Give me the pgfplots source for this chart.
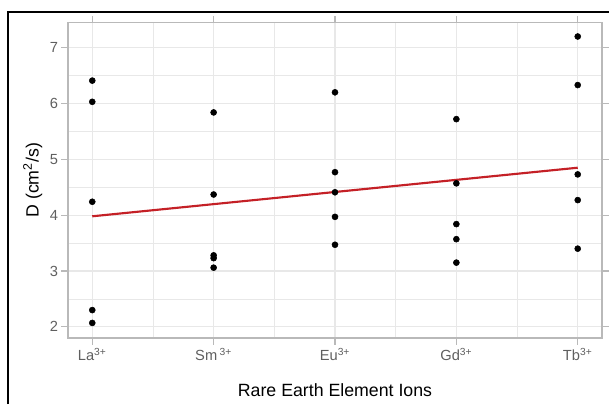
\documentclass[border=0pt]{standalone}
\usepackage{pgfplots}
\pgfplotsset{compat=1.18}
\usepackage{fontspec}
\setmainfont{Liberation Sans}

\definecolor{gridgray}{RGB}{232,232,232}
\definecolor{framegray}{RGB}{185,185,185}
\definecolor{ticktext}{RGB}{95,95,95}
\definecolor{fitred}{RGB}{196,32,38}

\begin{document}
\begin{tikzpicture}
    \begin{axis}[
        scale only axis,
        width=400.5pt,
        height=236.6pt,
        xmin=-0.2, xmax=4.2,
        ymin=1.80, ymax=7.45,
        xtick={0,1,2,3,4},
        xticklabels={La\textsuperscript{3+}, Sm\,\textsuperscript{3+}, Eu\textsuperscript{3+}, Gd\textsuperscript{3+}, Tb\textsuperscript{3+}},
        ytick={2,3,4,5,6,7},
        minor xtick={0.5,1.5,2.5,3.5},
        minor ytick={2.5,3.5,4.5,5.5,6.5},
        grid=both,
        major grid style={gridgray, line width=0.8pt},
        minor grid style={gridgray, line width=0.45pt},
        axis line style={framegray, line width=0.9pt},
        tick align=outside,
        major tick length=5pt,
        minor tick length=0pt,
        major tick style={framegray, line width=0.8pt},
        tick label style={font=\fontsize{11}{13}\selectfont, text=ticktext},
        /pgf/number format/assume math mode=true,
        xticklabel style={yshift=1pt},
        yticklabel style={xshift=1pt},
        xlabel={Rare Earth Element Ions},
        ylabel={D (cm\textsuperscript{2}/s)},
        label style={font=\fontsize{13.3}{16}\selectfont},
        xlabel style={at={(axis description cs:0.5,-0.165)}, anchor=center},
        ylabel style={at={(axis description cs:-0.066,0.5)}, anchor=center},
        clip=false,
    ]
    % measured points: La, Sm, Eu, Gd, Tb
    \addplot[only marks, mark=*, mark size=2.25pt, black] coordinates {
        (0,6.41) (0,6.03) (0,4.24) (0,2.30) (0,2.07)
        (1,5.84) (1,4.37) (1,3.28) (1,3.23) (1,3.06)
        (2,6.20) (2,4.77) (2,4.41) (2,3.97) (2,3.47)
        (3,5.72) (3,4.57) (3,3.84) (3,3.57) (3,3.15)
        (4,7.20) (4,6.33) (4,4.73) (4,4.27) (4,3.40)
    };
    % linear fit
    \addplot[fitred, line width=1.6pt] coordinates {(0,3.98) (4,4.85)};
    \end{axis}
    % outer frame (left and top edges only, as in the crop)
    \draw[black, line width=1.3pt] (-45pt,-49.5pt) -- (-45pt,244.5pt) -- (406pt,244.5pt);
    \pgfresetboundingbox
    \useasboundingbox (-51pt,-49.5pt) rectangle (405.75pt,253.5pt);
\end{tikzpicture}
\end{document}
